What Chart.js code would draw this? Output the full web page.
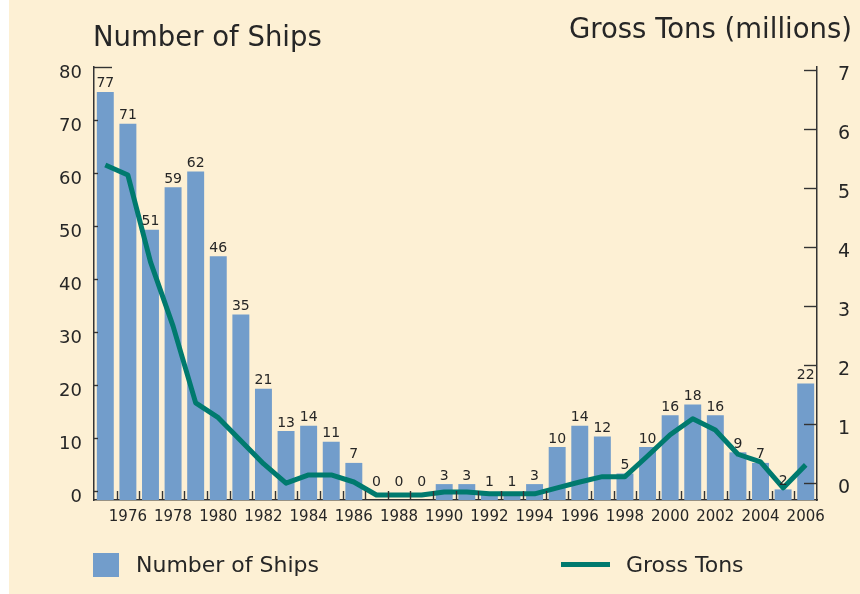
<!DOCTYPE html>
<html>
<head>
<meta charset="utf-8">
<script src="https://cdn.jsdelivr.net/npm/chart.js@4.4.1/dist/chart.umd.min.js"></script>
<style>
  body { margin: 0; background: #fff; font-family: "DejaVu Sans", sans-serif; color: #262626; }
  #paper { position: absolute; left: 9px; top: 0; width: 851px; height: 594px; background: #fdf0d4; }
  #box { position: absolute; left: 0; top: 0; width: 860px; height: 594px; }
  .txt { position: absolute; line-height: 1; white-space: nowrap; }
  .swatch { position: absolute; }
</style>
</head>
<body>
<div id="paper"></div>
<div id="box"><canvas id="myChart" width="860" height="594"></canvas></div>
<div class="txt" style="left:93px; top:23px; font-size:27.5px;">Number of Ships</div>
<div class="txt" style="right:8px; top:15px; font-size:27.5px;">Gross Tons (millions)</div>
<div class="swatch" style="left:93px; top:553px; width:26px; height:24px; background:#729dcb;"></div>
<div class="txt" style="left:136px; top:554px; font-size:22px;">Number of Ships</div>
<div class="swatch" style="left:561px; top:562px; width:49px; height:5px; background:#007a6e;"></div>
<div class="txt" style="left:626px; top:554px; font-size:22px;">Gross Tons</div>
<script>
const years = ['1975', '1976', '1977', '1978', '1979', '1980', '1981', '1982', '1983', '1984', '1985',
  '1986', '1987', '1988', '1989', '1990', '1991', '1992', '1993', '1994', '1995', '1996', '1997',
  '1998', '1999', '2000', '2001', '2002', '2003', '2004', '2005', '2006'];
const ships = [77, 71, 51, 59, 62, 46, 35, 21, 13, 14, 11, 7, 0, 0, 0, 3, 3, 1, 1, 3, 10, 14, 12, 5,
  10, 16, 18, 16, 9, 7, 2, 22];
const grossTons = [5.59, 5.42, 3.95, 2.86, 1.56, 1.31, 0.92, 0.53, 0.20, 0.34, 0.34, 0.22, 0, 0, 0,
  0.05, 0.05, 0.02, 0.02, 0.02, 0.12, 0.22, 0.31, 0.31, 0.66, 1.02, 1.29, 1.10, 0.69, 0.56, 0.12, 0.51];
const shipTicks = [0, 10, 20, 30, 40, 50, 60, 70, 80];
const tonTicks = [0, 1, 2, 3, 4, 5, 6, 7];

const FONT = '"DejaVu Sans", sans-serif';
const INK = '#262626';
const AXIS = '#333';

// inward tick marks on all three axes
const axisMarks = {
  id: 'axisMarks',
  afterDraw(chart) {
    const { ctx, chartArea: a, scales } = chart;
    const seg = (x1, y1, x2, y2) => { ctx.beginPath(); ctx.moveTo(x1, y1); ctx.lineTo(x2, y2); ctx.stroke(); };
    ctx.save();
    ctx.strokeStyle = AXIS;
    ctx.lineWidth = 1.4;
    scales.yLeft.ticks.forEach(t => {
      const y = Math.round(scales.yLeft.getPixelForValue(t.value)) + 0.5;
      seg(a.left, y, a.left + (t.value === 80 ? 18 : 4), y);
    });
    scales.yRight.ticks.forEach(t => {
      const y = Math.round(scales.yRight.getPixelForValue(t.value)) + 0.5;
      seg(a.right - 13, y, a.right, y);
    });
    for (let i = 0; i < years.length - 1; i++) {
      const x = Math.round((scales.x.getPixelForValue(i) + scales.x.getPixelForValue(i + 1)) / 2) + 0.5;
      seg(x, a.bottom - 9, x, a.bottom);
    }
    ctx.restore();
  }
};

// value labels above bars
const barLabels = {
  id: 'barLabels',
  afterDatasetsDraw(chart) {
    const { ctx, chartArea } = chart;
    const meta = chart.getDatasetMeta(1);
    ctx.save();
    ctx.font = '14px ' + FONT;
    ctx.fillStyle = INK;
    ctx.textAlign = 'center';
    ctx.textBaseline = 'alphabetic';
    meta.data.forEach((bar, i) => {
      ctx.fillText(String(ships[i]), bar.x, Math.min(bar.y - 4.5, chartArea.bottom - 14));
    });
    ctx.restore();
  }
};

const myChartRef = document.getElementById('myChart').getContext('2d');
new Chart(myChartRef, {
  data: {
    labels: years,
    datasets: [
      {
        type: 'line',
        label: 'Gross Tons',
        data: grossTons,
        yAxisID: 'yLine',
        borderColor: '#007a6e',
        borderWidth: 5,
        tension: 0,
        pointRadius: 0,
        borderJoinStyle: 'round',
        order: 0
      },
      {
        type: 'bar',
        label: 'Number of Ships',
        data: ships,
        yAxisID: 'yBars',
        backgroundColor: '#729dcb',
        categoryPercentage: 1,
        barPercentage: 0.75,
        order: 1
      }
    ]
  },
  options: {
    responsive: false,
    animation: false,
    devicePixelRatio: 1,
    layout: { padding: { top: 67, left: 0, right: 0, bottom: 0 } },
    plugins: { legend: { display: false }, tooltip: { enabled: false } },
    scales: {
      x: {
        offset: true,
        grid: { display: false, drawTicks: false },
        border: { display: true, color: AXIS, width: 1.5 },
        ticks: {
          autoSkip: false, maxRotation: 0, padding: 8,
          color: INK, font: { family: FONT, size: 15 },
          callback: (v, i) => (Number(years[i]) % 2 === 0 ? years[i] : '')
        },
        afterFit: s => { s.height = 94; }
      },
      yLeft: {
        position: 'left',
        min: -1.7, max: 80,
        grid: { display: false, drawTicks: false },
        border: { display: true, color: AXIS, width: 1.5 },
        ticks: { padding: 12, labelOffset: 6, color: INK, font: { family: FONT, size: 18 } },
        afterBuildTicks: s => { s.ticks = shipTicks.map(v => ({ value: v })); },
        afterFit: s => { s.width = 94; }
      },
      yRight: {
        position: 'right',
        min: -0.29, max: 7.05,
        grid: { display: false, drawTicks: false },
        border: { display: true, color: AXIS, width: 1.5 },
        ticks: { padding: 21, labelOffset: 5, color: INK, font: { family: FONT, size: 19 } },
        afterBuildTicks: s => { s.ticks = tonTicks.map(v => ({ value: v })); },
        afterFit: s => { s.width = 43; }
      },
      yBars: { display: false, min: 0, max: 81.7 },
      yLine: { display: false, min: -0.085, max: 7.25 }
    }
  },
  plugins: [axisMarks, barLabels]
});
</script>
</body>
</html>
